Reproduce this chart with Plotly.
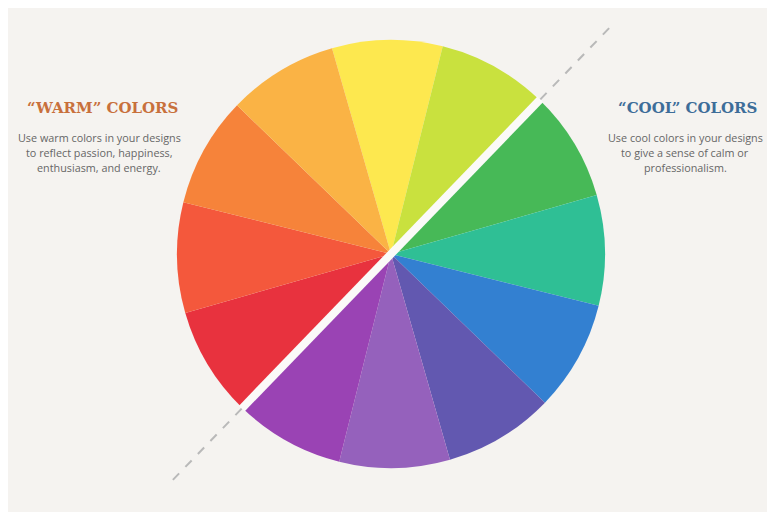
import math
import plotly.graph_objects as go

W, H = 775, 512
OFF = 8  # page body margin that shifts the figure in the browser

# ---- data ----
hues = ["Yellow", "Yellow-green", "Green", "Blue-green", "Blue", "Blue-violet",
        "Violet", "Red-violet", "Red", "Red-orange", "Orange", "Yellow-orange"]
shares = [1, 1, 1, 1, 1, 1, 1, 1, 1, 1, 1, 1]
hue_colors = ["#fde84f", "#c9e13e", "#47b957", "#2fbf95", "#3380d1", "#6258b0",
              "#9561bc", "#9a43b4", "#e8323e", "#f4583c", "#f6833a", "#fab345"]

warm_title = "“WARM” COLORS"
warm_lines = ["Use warm colors in your designs",
              "to reflect passion, happiness,",
              "enthusiasm, and energy."]
cool_title = "“COOL” COLORS"
cool_lines = ["Use cool colors in your designs",
              "to give a sense of calm or",
              "professionalism."]

# ---- layout helpers (window pixel -> paper) ----
def px(x):
    return (x - OFF) / W

def py(y):
    return 1 - (y - OFF) / H

cx, cy, R = 391, 254, 214
split_deg = 44  # clockwise from 12 o'clock

fig = go.Figure()
fig.add_trace(go.Pie(
    labels=hues, values=shares, sort=False, direction="clockwise",
    rotation=split_deg - 60,
    marker=dict(colors=hue_colors, line=dict(width=0)),
    textinfo="none", hoverinfo="label", showlegend=False,
    domain=dict(x=[px(cx - R), px(cx + R)], y=[py(cy + R), py(cy - R)]),
))

ux, uy = math.sin(math.radians(split_deg)), -math.cos(math.radians(split_deg))
shapes = [
    dict(type="rect", xref="paper", yref="paper", x0=0, x1=1, y0=0, y1=1,
         fillcolor="#f5f3f0", line=dict(width=0), layer="below"),
    # gap through the wheel
    dict(type="line", xref="paper", yref="paper",
         x0=px(cx - (R + 1) * ux), y0=py(cy - (R + 1) * uy),
         x1=px(cx + (R + 1) * ux), y1=py(cy + (R + 1) * uy),
         line=dict(color="#fbfaf8", width=8)),
]
for s in (1, -1):
    shapes.append(dict(type="line", xref="paper", yref="paper",
                       x0=px(cx + s * (R + 1) * ux), y0=py(cy + s * (R + 1) * uy),
                       x1=px(cx + s * 316 * ux), y1=py(cy + s * 316 * uy),
                       line=dict(color="#b9b9b9", width=2, dash="dash")))

annotations = []
def block(xt, xd, title, lines, color):
    annotations.append(dict(text=title, x=px(xt), y=py(108), xref="paper", yref="paper",
                            showarrow=False, xanchor="center", yanchor="middle",
                            font=dict(family="DejaVu Serif", size=15, color=color, weight="bold")))
    for i, t in enumerate(lines):
        annotations.append(dict(text=t, x=px(xd), y=py(137 + 15 * i), xref="paper", yref="paper",
                                showarrow=False, xanchor="center", yanchor="middle",
                                font=dict(family="Open Sans", size=10.8, color="#666666")))

block(102.5, 99, warm_title, warm_lines, "#c8703c")
block(687, 685, cool_title, cool_lines, "#3d6d99")

fig.update_layout(width=W, height=H, margin=dict(l=0, r=0, t=0, b=0),
                  paper_bgcolor="#f5f3f0", plot_bgcolor="#f5f3f0",
                  shapes=shapes, annotations=annotations)
fig.write_html("out.html")
